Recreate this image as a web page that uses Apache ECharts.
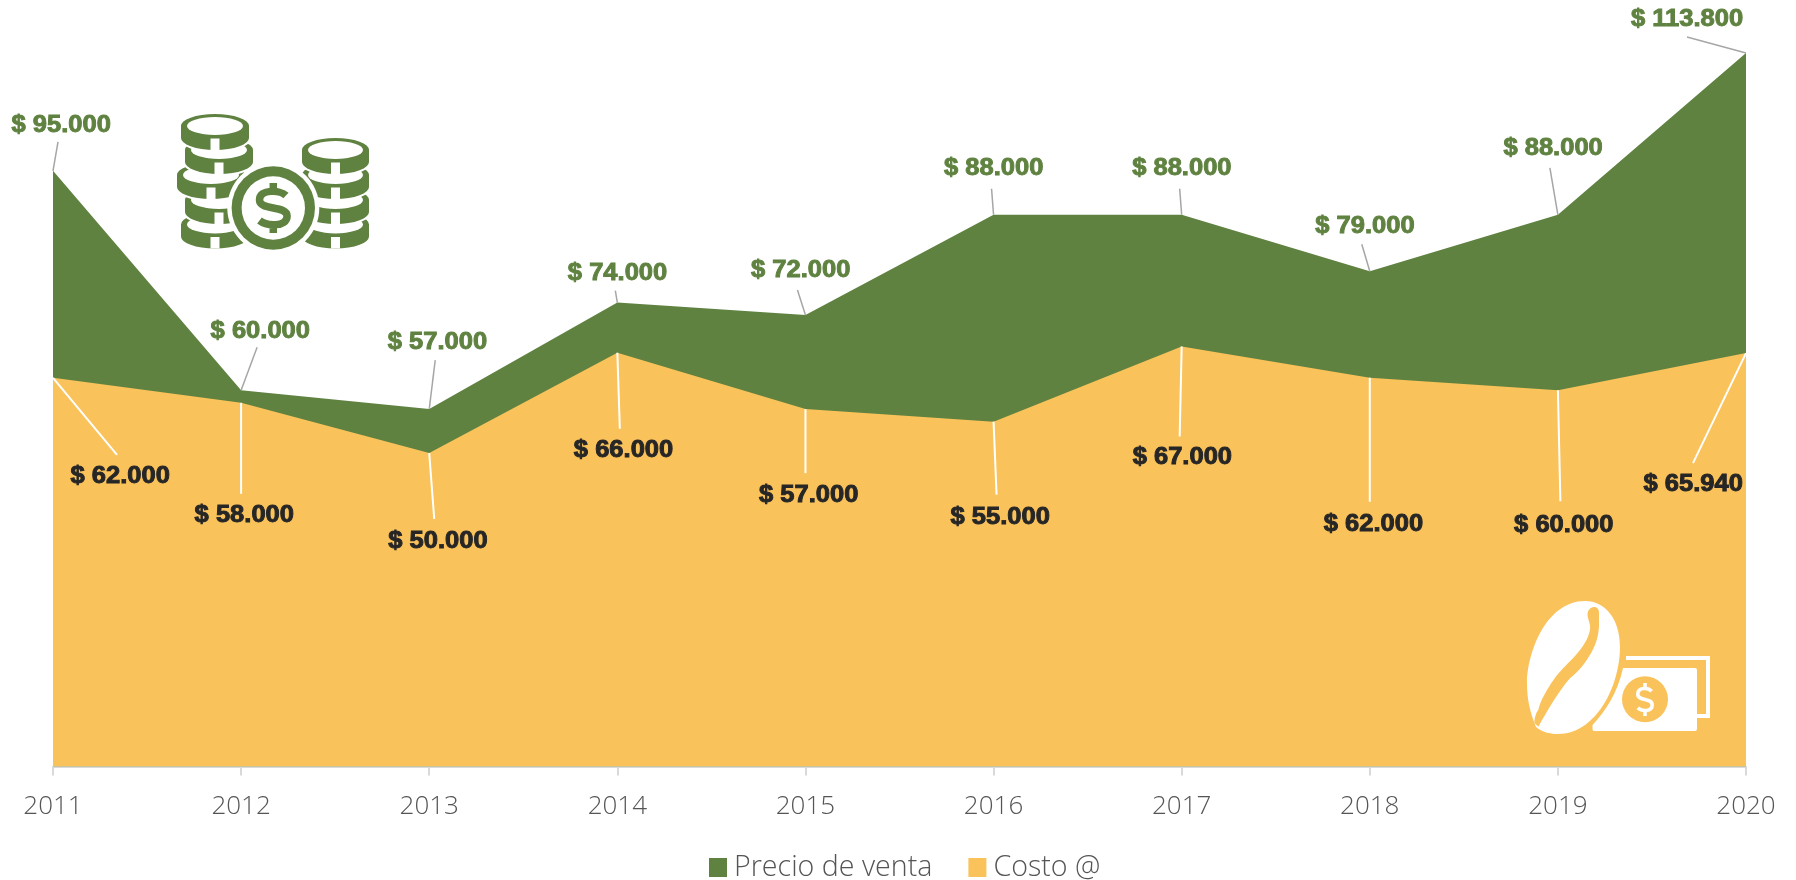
<!DOCTYPE html>
<html>
<head>
<meta charset="utf-8">
<title>Precio de venta y costo</title>
<style>
  html, body { margin: 0; padding: 0; background: #fff; }
  #chart { width: 1796px; height: 880px; }
</style>
<script src="https://cdn.jsdelivr.net/npm/echarts@6/dist/echarts.min.js"></script>
</head>
<body>
<div id="chart"></div>
<script>
var years = ['2011', '2012', '2013', '2014', '2015', '2016', '2017', '2018', '2019', '2020'];
var precioVenta = [95000, 60000, 57000, 74000, 72000, 88000, 88000, 79000, 88000, 113800];
var costo = [62000, 58000, 50000, 66000, 57000, 55000, 67000, 62000, 60000, 65940];

var GREEN = '#5f8240';
var ORANGE = '#fac25a';

// label placement relative to each point: [text dx, text dy, line end dx, line end dy]
var precioOffsets = [
    [8.2, -45, 5, -29], [19.2, -59, 16, -43], [8.2, -66, 6, -49], [0.2, -29, -2, -12], [-4.8, -44, -8, -25],
    [0.2, -46, -2, -26], [0.2, -46, -2, -26], [-4.8, -44.5, -8, -27], [-4.8, -66, -8, -47], [-59, -33, -59, -16]
];
var costoOffsets = [
    [67.2, 99, 64, 77], [3.2, 112.5, 0, 91], [8.7, 88.5, 5, 66], [6.2, 98, 2.5, 76], [3.2, 87, 0, 64],
    [6.7, 96, 3, 73], [0.7, 111.5, -2, 90], [3.7, 146.6, 0, 124], [5.9, 135, 2.5, 111], [-52.8, 132, -53, 110]
];

function money(v) {
    return '$ ' + String(v).replace(/\B(?=(\d{3})+$)/g, '.');
}

// leader line + bold label for one point
function labelRenderer(offsets, textColor, lineColor, lineWidth) {
    return function (params, api) {
        var pt = api.coord([api.value(0), api.value(1)]);
        var off = offsets[params.dataIndex];
        return {
            type: 'group',
            children: [{
                type: 'line',
                shape: { x1: pt[0], y1: pt[1], x2: pt[0] + off[2], y2: pt[1] + off[3] },
                style: { stroke: lineColor, lineWidth: lineWidth }
            }, {
                type: 'text',
                x: pt[0] + off[0],
                y: pt[1] + off[1],
                scaleX: 1.11,
                style: {
                    text: money(api.value(1)),
                    font: 'bold 23px "Liberation Sans", Arial, sans-serif',
                    fill: textColor,
                    stroke: textColor,
                    lineWidth: 0.9,
                    align: 'center',
                    verticalAlign: 'middle'
                }
            }]
        };
    };
}

function labelData(values) {
    return values.map(function (v, i) { return [i, v]; });
}

function ellipsePath(cx, cy, rx, ry) {
    return 'M' + (cx - rx) + ',' + cy + ' A' + rx + ',' + ry + ' 0 0 1 ' + (cx + rx) + ',' + cy +
        ' A' + rx + ',' + ry + ' 0 0 1 ' + (cx - rx) + ',' + cy + ' Z';
}

// one coin of the stack, bottom-up drawing order gives the overlaps
function coin(cx, cy, rx) {
    var ry = 13, h = 12;
    var bottom = cy + h + ry;
    return [{
        type: 'path',
        shape: {
            pathData: 'M' + (cx - rx) + ',' + cy + ' A' + rx + ',' + ry + ' 0 0 1 ' + (cx + rx) + ',' + cy +
                ' L' + (cx + rx) + ',' + (cy + h) + ' A' + rx + ',' + ry + ' 0 0 1 ' + (cx - rx) + ',' + (cy + h) + ' Z'
        },
        style: { fill: GREEN, stroke: '#fff', lineWidth: 2 }
    }, {
        type: 'path',
        shape: { pathData: ellipsePath(cx, cy, rx - 7, 9) },
        style: { fill: '#fff' }
    }, {
        type: 'rect',
        shape: { x: cx - 4.5, y: bottom - 12.5, width: 9, height: 11.5 },
        style: { fill: '#fff' }
    }];
}

function dollar(cx, cy, sx, sy, color, lw) {
    function p(x, y) { return (cx + x * sx) + ',' + (cy + y * sy); }
    return {
        type: 'path',
        shape: {
            pathData: 'M' + p(0.55, -0.5) + ' C' + p(0.3, -0.72) + ' ' + p(-0.6, -0.78) + ' ' + p(-0.6, -0.32) +
                ' C' + p(-0.6, 0.12) + ' ' + p(0.6, -0.12) + ' ' + p(0.6, 0.32) +
                ' C' + p(0.6, 0.78) + ' ' + p(-0.3, 0.72) + ' ' + p(-0.6, 0.5) +
                ' M' + p(0, -1) + ' L' + p(0, -0.66) + ' M' + p(0, 0.66) + ' L' + p(0, 1)
        },
        style: { fill: 'transparent', stroke: color, lineWidth: lw }
    };
}

var coinsIcon = [].concat(
    coin(215, 224.5, 35), coin(219, 200, 35), coin(211, 175, 35), coin(219, 150, 35), coin(215, 126, 35),
    coin(335.5, 224.5, 34.5), coin(335.5, 200, 34.5), coin(335.5, 175, 34.5), coin(335.5, 150, 34.5),
    [
        { type: 'circle', shape: { cx: 273.3, cy: 208, r: 46 }, style: { fill: '#fff' } },
        { type: 'circle', shape: { cx: 273.3, cy: 208, r: 41.7 }, style: { fill: GREEN } },
        { type: 'circle', shape: { cx: 273.3, cy: 208, r: 31.7 }, style: { fill: '#fff' } },
        dollar(273.3, 208, 23, 25, GREEN, 7.5)
    ]
);

var beanIcon = [
    {
        type: 'path',
        shape: { pathData: 'M1626,658 L1708,658 L1708,716 L1697,716' },
        style: { fill: 'transparent', stroke: '#fff', lineWidth: 4 }
    },
    {
        type: 'path',
        shape: { pathData: 'M1623,668 L1695,668 Q1697,668 1697,670 L1697,729 Q1697,731 1695,731 L1594,731 Q1592.5,731 1592.5,729 L1592.5,725 C1605,712 1618,692 1623,668 Z' },
        style: { fill: '#fff' }
    },
    { type: 'circle', shape: { cx: 1645, cy: 699.3, r: 23 }, style: { fill: ORANGE } },
    dollar(1645, 699.5, 12, 16.5, '#fff', 3.6),
    {
        type: 'path',
        shape: { pathData: 'M1585,601 C1606,601 1620,620 1620,647 C1620,672 1610,700 1595,716 C1582,730 1570,734 1557,734 C1550,734 1542,732 1536,727 C1530,712 1527,700 1527,683 C1527,655 1545,601 1585,601 Z' },
        style: { fill: '#fff' }
    },
    {
        type: 'path',
        shape: { pathData: 'M1587.7,616.7 C1586.5,609 1592,607 1594,607 C1597,607 1599,609 1599,613 L1599,620 C1600,640 1592,652 1586.7,660 C1580,670 1575,674 1570,678.3 C1558,692 1548,710 1538.3,726.7 L1534.3,722.7 C1535,716 1536,713 1538.3,710 C1540,704 1541,701 1543.3,696.7 C1548,688 1554,678 1560,671.7 C1568,663 1574,658 1580,650 C1587,641 1591,632 1590,625 Z' },
        style: { fill: ORANGE }
    }
];

var chart = echarts.init(document.getElementById('chart'));

chart.setOption({
    animation: false,
    backgroundColor: '#fff',
    textStyle: { fontFamily: '"Open Sans", sans-serif' },
    grid: { left: 53, right: 50, top: 53, bottom: 113.5 },
    legend: {
        data: ['Precio de venta', 'Costo @'],
        left: 709,
        top: 853,
        padding: 0,
        icon: 'rect',
        itemWidth: 18,
        itemHeight: 19,
        itemGap: 36,
        textStyle: { color: '#555', fontSize: 28.6, fontWeight: 300, padding: [0, 0, 0, 2] }
    },
    xAxis: {
        type: 'category',
        boundaryGap: false,
        data: years,
        axisLine: { lineStyle: { color: '#d9d9d9', width: 2 } },
        axisTick: { show: true, length: 9, lineStyle: { color: '#d9d9d9', width: 2 } },
        axisLabel: { color: '#555', fontSize: 26, fontWeight: 300, margin: 27 }
    },
    yAxis: {
        type: 'value',
        min: 0,
        max: 113800,
        show: false,
        splitLine: { show: false }
    },
    series: [{
        name: 'Precio de venta',
        type: 'line',
        data: precioVenta,
        showSymbol: false,
        lineStyle: { width: 0, color: GREEN },
        itemStyle: { color: GREEN },
        areaStyle: { color: GREEN, opacity: 1 }
    }, {
        name: 'Costo @',
        type: 'line',
        data: costo,
        showSymbol: false,
        lineStyle: { width: 0, color: ORANGE },
        itemStyle: { color: ORANGE },
        areaStyle: { color: ORANGE, opacity: 1 }
    }, {
        type: 'custom',
        name: 'precioLabels',
        silent: true,
        clip: false,
        z: 10,
        data: labelData(precioVenta),
        renderItem: labelRenderer(precioOffsets, GREEN, '#a6a6a6', 1.5)
    }, {
        type: 'custom',
        name: 'costoLabels',
        silent: true,
        clip: false,
        z: 10,
        data: labelData(costo),
        renderItem: labelRenderer(costoOffsets, '#262626', '#fff', 2)
    }, {
        // the two decorative icons, placed in page pixels
        type: 'custom',
        name: 'icons',
        silent: true,
        clip: false,
        z: 20,
        data: [[0, 0]],
        renderItem: function () {
            return { type: 'group', children: coinsIcon.concat(beanIcon) };
        }
    }]
});
</script>
</body>
</html>
